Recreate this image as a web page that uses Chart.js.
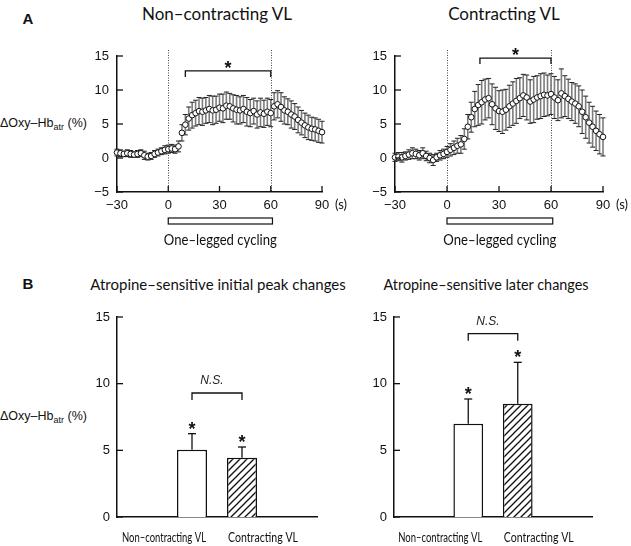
<!DOCTYPE html>
<html>
<head>
<meta charset="utf-8">
<script src="https://cdn.jsdelivr.net/npm/chart.js@4.4.1/dist/chart.umd.min.js"></script>
<style>
  body { margin: 0; width: 631px; height: 546px; position: relative; overflow: hidden; background: #fff; color: #111; }
  canvas { position: absolute; }
  .t { position: absolute; white-space: nowrap; transform: translate(-50%, -50%); font-family: Lato, "Open Sans", sans-serif; }
  .letter { font-family: "Liberation Sans", Arial, sans-serif; font-weight: bold; font-size: 15px; }
  .head { font-size: 17px; }
  .sub { font-size: 15px; }
  .ylab { position: absolute; left: 0; white-space: nowrap; transform: translateY(-50%); font-family: "Liberation Sans", Arial, sans-serif; font-size: 12.5px; }
  .ylab sub { font-size: 9px; vertical-align: -3px; }
</style>
</head>
<body>
<div class="t letter" style="left:28px;top:18px">A</div>
<div class="t head" style="left:217px;top:13px">Non–contracting VL</div>
<div class="t head" style="left:504px;top:13px">Contracting VL</div>
<div class="ylab" style="top:124px">ΔOxy–Hb<sub>atr</sub> (%)</div>

<div class="t letter" style="left:28px;top:283px">B</div>
<div class="t sub" style="left:218px;top:284px">Atropine–sensitive initial peak changes</div>
<div class="t sub" style="left:486px;top:284px;font-size:14.4px">Atropine–sensitive later changes</div>
<div class="ylab" style="top:417px">ΔOxy–Hb<sub>atr</sub> (%)</div>

<canvas id="noncon" width="270" height="230" style="left:84px;top:30px"></canvas>
<canvas id="con" width="271" height="230" style="left:360px;top:30px"></canvas>
<canvas id="initial" width="256" height="246" style="left:84px;top:300px"></canvas>
<canvas id="later" width="271" height="246" style="left:360px;top:300px"></canvas>

<script>
// time course, every 2 s from -30 to 90 s
const TIME = [-30, -28, -26, -24, -22, -20, -18, -16, -14, -12, -10, -8, -6, -4, -2,
  0, 2, 4, 6, 8, 10, 12, 14, 16, 18, 20, 22, 24, 26, 28,
  30, 32, 34, 36, 38, 40, 42, 44, 46, 48, 50, 52, 54, 56, 58,
  60, 62, 64, 66, 68, 70, 72, 74, 76, 78, 80, 82, 84, 86, 88, 90];

const NONCON_MEAN = [0.8, 0.7, 0.6, 0.7, 0.6, 0.5, 0.6, 0.7, 0.4, 0.2, 0.3, 0.6, 0.8, 1.0, 1.2,
  1.3, 1.4, 1.3, 1.7, 3.7, 4.9, 5.8, 6.3, 6.6, 6.9, 6.8, 7.0, 7.2, 7.0, 7.1,
  7.4, 7.3, 7.7, 7.6, 7.3, 7.1, 7.0, 7.2, 6.8, 6.6, 6.9, 6.4, 6.7, 6.5, 6.8,
  6.6, 7.6, 7.9, 7.5, 7.0, 6.8, 6.4, 6.1, 5.6, 5.2, 4.8, 4.5, 4.3, 4.2, 4.0, 3.8];
const NONCON_SD = [0.5, 0.5, 0.4, 0.5, 0.5, 0.4, 0.5, 0.5, 0.6, 0.5, 0.5, 0.5, 0.5, 0.5, 0.6,
  0.6, 0.6, 0.6, 0.8, 1.2, 1.5, 1.7, 1.9, 1.9, 2.0, 2.0, 1.9, 2.0, 2.1, 2.0,
  2.0, 2.1, 2.0, 1.9, 2.0, 2.1, 2.0, 2.0, 2.1, 2.0, 1.9, 2.0, 2.1, 2.0, 2.0,
  2.0, 2.0, 2.0, 2.1, 2.0, 1.9, 2.0, 1.9, 1.9, 1.8, 1.8, 1.8, 1.7, 1.7, 1.7, 1.6];

const CON_MEAN = [0.1, 0.2, 0.1, 0.3, 0.5, 0.7, 0.6, 0.4, 0.7, 0.3, 0.0, -0.3, 0.1, 0.4, 0.6,
  0.9, 1.2, 1.5, 1.8, 2.0, 2.8, 4.6, 6.0, 7.2, 7.8, 8.2, 8.6, 8.8, 7.9, 7.3,
  6.9, 6.8, 7.1, 7.6, 8.0, 8.4, 8.8, 9.2, 8.9, 8.3, 8.6, 8.9, 9.1, 9.3, 9.2,
  9.4, 8.9, 8.5, 9.5, 9.1, 8.7, 8.3, 8.0, 7.6, 6.8, 6.0, 5.2, 4.6, 4.0, 3.5, 3.1];
const CON_SD = [0.6, 0.6, 0.7, 0.6, 0.7, 0.8, 0.7, 0.7, 0.8, 0.7, 0.7, 0.8, 0.6, 0.7, 0.7,
  0.8, 0.9, 1.0, 1.1, 1.3, 1.5, 1.8, 2.2, 2.6, 3.0, 3.2, 3.0, 2.9, 3.0, 3.1,
  3.0, 3.2, 3.0, 3.1, 3.2, 3.3, 3.0, 3.1, 3.3, 3.2, 3.4, 3.2, 3.3, 3.2, 3.0,
  3.0, 3.1, 3.0, 3.6, 3.0, 2.9, 2.8, 2.9, 3.0, 3.2, 3.1, 3.0, 3.0, 2.9, 2.9, 2.8];

const X_TICKS = [-30, 0, 30, 60, 90];
const Y_TICKS = [-5, 0, 5, 10, 15];
const CYCLING = [0, 61];         // exercise period (s)
const DOTTED_AT = [0, 60];
const NONCON_BRACKET = [10, 60, 12.8];  // from, to, level
const CON_BRACKET = [19, 60, 14.7];

// atropine-sensitive changes, bars in the middle two categories
const BAR_CATS = ['', 'Non–contracting VL', 'Contracting VL', ''];
const BAR_TICKS = [0, 5, 10, 15];
const INITIAL_MEAN = [null, 5.05, 4.45, null];
const INITIAL_ERR = [null, 1.2, 0.8, null];
const LATER_MEAN = [null, 7.0, 8.5, null];
const LATER_ERR = [null, 1.85, 3.1, null];
const INITIAL_NS = 9.3;
const LATER_NS = 13.75;

const TICK_FONT = { family: '"Liberation Sans", Arial, sans-serif', size: 13 };
const INK = '#111';

function line(ctx, x1, y1, x2, y2) {
  ctx.beginPath();
  ctx.moveTo(x1, y1);
  ctx.lineTo(x2, y2);
  ctx.stroke();
}

function star(ctx, x, yCenter) {
  ctx.font = 'bold 18px "Liberation Sans", Arial, sans-serif';
  ctx.textAlign = 'center';
  ctx.textBaseline = 'alphabetic';
  ctx.fillStyle = INK;
  ctx.fillText('*', x, yCenter + 11);
}

const minus = v => String(v).replace('-', '−');

function timeDecor(mean, sd, bracket) {
  return {
    id: 'timeDecor',
    beforeDatasetsDraw(chart) {
      const { ctx, chartArea: a, scales: { x, y } } = chart;
      ctx.save();
      ctx.lineWidth = 1;
      ctx.strokeStyle = '#444';
      ctx.setLineDash([1, 1.5]);
      DOTTED_AT.forEach(t => {
        const px = Math.round(x.getPixelForValue(t)) + 0.5;
        line(ctx, px, a.top - 6, px, a.bottom);
      });
      ctx.setLineDash([]);
      // error bars (mean ± SD)
      mean.forEach((m, i) => {
        const px = x.getPixelForValue(TIME[i]);
        const hi = y.getPixelForValue(m + sd[i]);
        const lo = y.getPixelForValue(m - sd[i]);
        ctx.lineWidth = 1.6;
        ctx.strokeStyle = '#7c7c7c';
        line(ctx, px, hi, px, lo);
        ctx.lineWidth = 1;
        ctx.strokeStyle = '#222';
        line(ctx, px - 2.5, hi, px + 2.5, hi);
        line(ctx, px - 2.5, lo, px + 2.5, lo);
      });
      ctx.restore();
    },
    afterDraw(chart) {
      const { ctx, chartArea: a, scales: { x, y } } = chart;
      ctx.save();
      ctx.strokeStyle = INK;
      ctx.lineWidth = 1.3;
      Y_TICKS.forEach(v => {
        const py = y.getPixelForValue(v);
        line(ctx, a.left, py, a.left + 6, py);
      });
      X_TICKS.forEach(v => {
        const px = x.getPixelForValue(v);
        line(ctx, px, a.bottom, px, a.bottom - 6);
      });

      // significance bracket
      const bx1 = x.getPixelForValue(bracket[0]);
      const bx2 = x.getPixelForValue(bracket[1]);
      const by = y.getPixelForValue(bracket[2]);
      ctx.beginPath();
      ctx.moveTo(bx1, by + 6);
      ctx.lineTo(bx1, by);
      ctx.lineTo(bx2, by);
      ctx.lineTo(bx2, by + 6);
      ctx.stroke();
      star(ctx, (bx1 + bx2) / 2, by - 8);

      // exercise bar
      const cx1 = x.getPixelForValue(CYCLING[0]);
      const cx2 = x.getPixelForValue(CYCLING[1]);
      ctx.lineWidth = 1.2;
      ctx.strokeRect(cx1, a.bottom + 26, cx2 - cx1, 6);
      ctx.fillStyle = INK;
      ctx.textAlign = 'center';
      ctx.textBaseline = 'middle';
      ctx.font = '15px Lato, "Open Sans", sans-serif';
      ctx.fillText('One–legged cycling', (cx1 + cx2) / 2, a.bottom + 48, 113);
      ctx.font = '13px Lato, "Open Sans", sans-serif';
      ctx.fillText('(s)', x.getPixelForValue(90) + 19, a.bottom + 13);
      ctx.restore();
    }
  };
}

function timeChart(id, mean, sd, bracket, padRight) {
  return new Chart(document.getElementById(id), {
    type: 'scatter',
    data: {
      datasets: [{
        data: TIME.map((t, i) => ({ x: t, y: mean[i] })),
        pointRadius: 2.8,
        pointBackgroundColor: '#fff',
        pointBorderColor: INK,
        pointBorderWidth: 1,
        showLine: false,
        clip: false
      }]
    },
    options: {
      responsive: false,
      animation: false,
      events: [],
      layout: { padding: { top: 26, right: padRight, bottom: 38, left: 0 } },
      plugins: { legend: { display: false }, tooltip: { enabled: false } },
      scales: {
        x: {
          type: 'linear', min: -30, max: 90,
          afterBuildTicks: s => { s.ticks = X_TICKS.map(v => ({ value: v })); },
          afterFit: s => { s.height = 30; },
          grid: { display: false, drawTicks: false },
          border: { color: INK, width: 1.5 },
          ticks: { padding: 6, color: INK, font: TICK_FONT, maxRotation: 0, callback: minus }
        },
        y: {
          type: 'linear', min: -5, max: 15,
          afterBuildTicks: s => { s.ticks = Y_TICKS.map(v => ({ value: v })); },
          afterFit: s => { s.width = padRight > 30 ? 33 : 35; },
          grid: { display: false, drawTicks: false },
          border: { color: INK, width: 1.5 },
          ticks: { padding: 8, color: INK, font: TICK_FONT, callback: minus }
        }
      }
    },
    plugins: [timeDecor(mean, sd, bracket)]
  });
}

function hatch() {
  const c = document.createElement('canvas');
  c.width = 7;
  c.height = 7;
  const g = c.getContext('2d');
  g.fillStyle = '#fff';
  g.fillRect(0, 0, 7, 7);
  g.strokeStyle = INK;
  g.lineWidth = 1.3;
  line(g, 0, 7, 7, 0);
  line(g, -1, 1, 1, -1);
  line(g, 6, 8, 8, 6);
  return g.createPattern(c, 'repeat');
}

function barDecor(mean, err, nsLevel) {
  return {
    id: 'barDecor',
    afterDraw(chart) {
      const { ctx, chartArea: a, scales: { x, y } } = chart;
      ctx.save();
      ctx.strokeStyle = INK;
      ctx.lineWidth = 1.3;
      BAR_TICKS.forEach(v => {
        const py = y.getPixelForValue(v);
        line(ctx, a.left, py, a.left + 6, py);
      });

      const centers = [];
      mean.forEach((m, i) => {
        if (m === null) return;
        const px = x.getPixelForValue(i);
        centers.push(px);
        const top = y.getPixelForValue(m);
        const cap = y.getPixelForValue(m + err[i]);
        line(ctx, px, top, px, cap);
        line(ctx, px - 4, cap, px + 4, cap);
        star(ctx, px, cap - 10);
      });

      // N.S. bracket between the two bars
      const by = y.getPixelForValue(nsLevel);
      ctx.beginPath();
      ctx.moveTo(centers[0], by + 7);
      ctx.lineTo(centers[0], by);
      ctx.lineTo(centers[1], by);
      ctx.lineTo(centers[1], by + 7);
      ctx.stroke();
      ctx.fillStyle = '#222';
      ctx.textAlign = 'center';
      ctx.textBaseline = 'middle';
      ctx.font = 'italic 12px "Liberation Sans", Arial, sans-serif';
      ctx.fillText('N.S.', (centers[0] + centers[1]) / 2 - 5, by - 12);

      // category names under the axis
      ctx.fillStyle = INK;
      ctx.font = '12.5px Lato, "Open Sans", sans-serif';
      ctx.fillText(BAR_CATS[1], centers[0] - 28, a.bottom + 21, 84);
      ctx.fillText(BAR_CATS[2], centers[1] + 21, a.bottom + 21, 70);
      ctx.restore();
    }
  };
}

function barChart(id, mean, err, nsLevel, padRight, axisWidth) {
  const canvas = document.getElementById(id);
  return new Chart(canvas, {
    type: 'bar',
    data: {
      labels: BAR_CATS,
      datasets: [{
        data: mean,
        backgroundColor: ['#fff', '#fff', hatch(), '#fff'],
        borderColor: INK,
        borderWidth: 1.5,
        barPercentage: 0.6,
        categoryPercentage: 1
      }]
    },
    options: {
      responsive: false,
      animation: false,
      events: [],
      layout: { padding: { top: 17, right: padRight, bottom: 29, left: 0 } },
      plugins: { legend: { display: false }, tooltip: { enabled: false } },
      scales: {
        x: {
          afterFit: s => { s.height = 0; },
          grid: { display: false, drawTicks: false },
          border: { color: INK, width: 1.5 },
          ticks: { display: false }
        },
        y: {
          min: 0, max: 15,
          afterBuildTicks: s => { s.ticks = BAR_TICKS.map(v => ({ value: v })); },
          afterFit: s => { s.width = axisWidth; },
          grid: { display: false, drawTicks: false },
          border: { color: INK, width: 1.5 },
          ticks: { padding: 7, color: INK, font: TICK_FONT }
        }
      }
    },
    plugins: [barDecor(mean, err, nsLevel)]
  });
}

timeChart('noncon', NONCON_MEAN, NONCON_SD, NONCON_BRACKET, 32);
timeChart('con', CON_MEAN, CON_SD, CON_BRACKET, 28);
barChart('initial', INITIAL_MEAN, INITIAL_ERR, INITIAL_NS, 23, 33);
barChart('later', LATER_MEAN, LATER_ERR, LATER_NS, 39, 34);
</script>
</body>
</html>
